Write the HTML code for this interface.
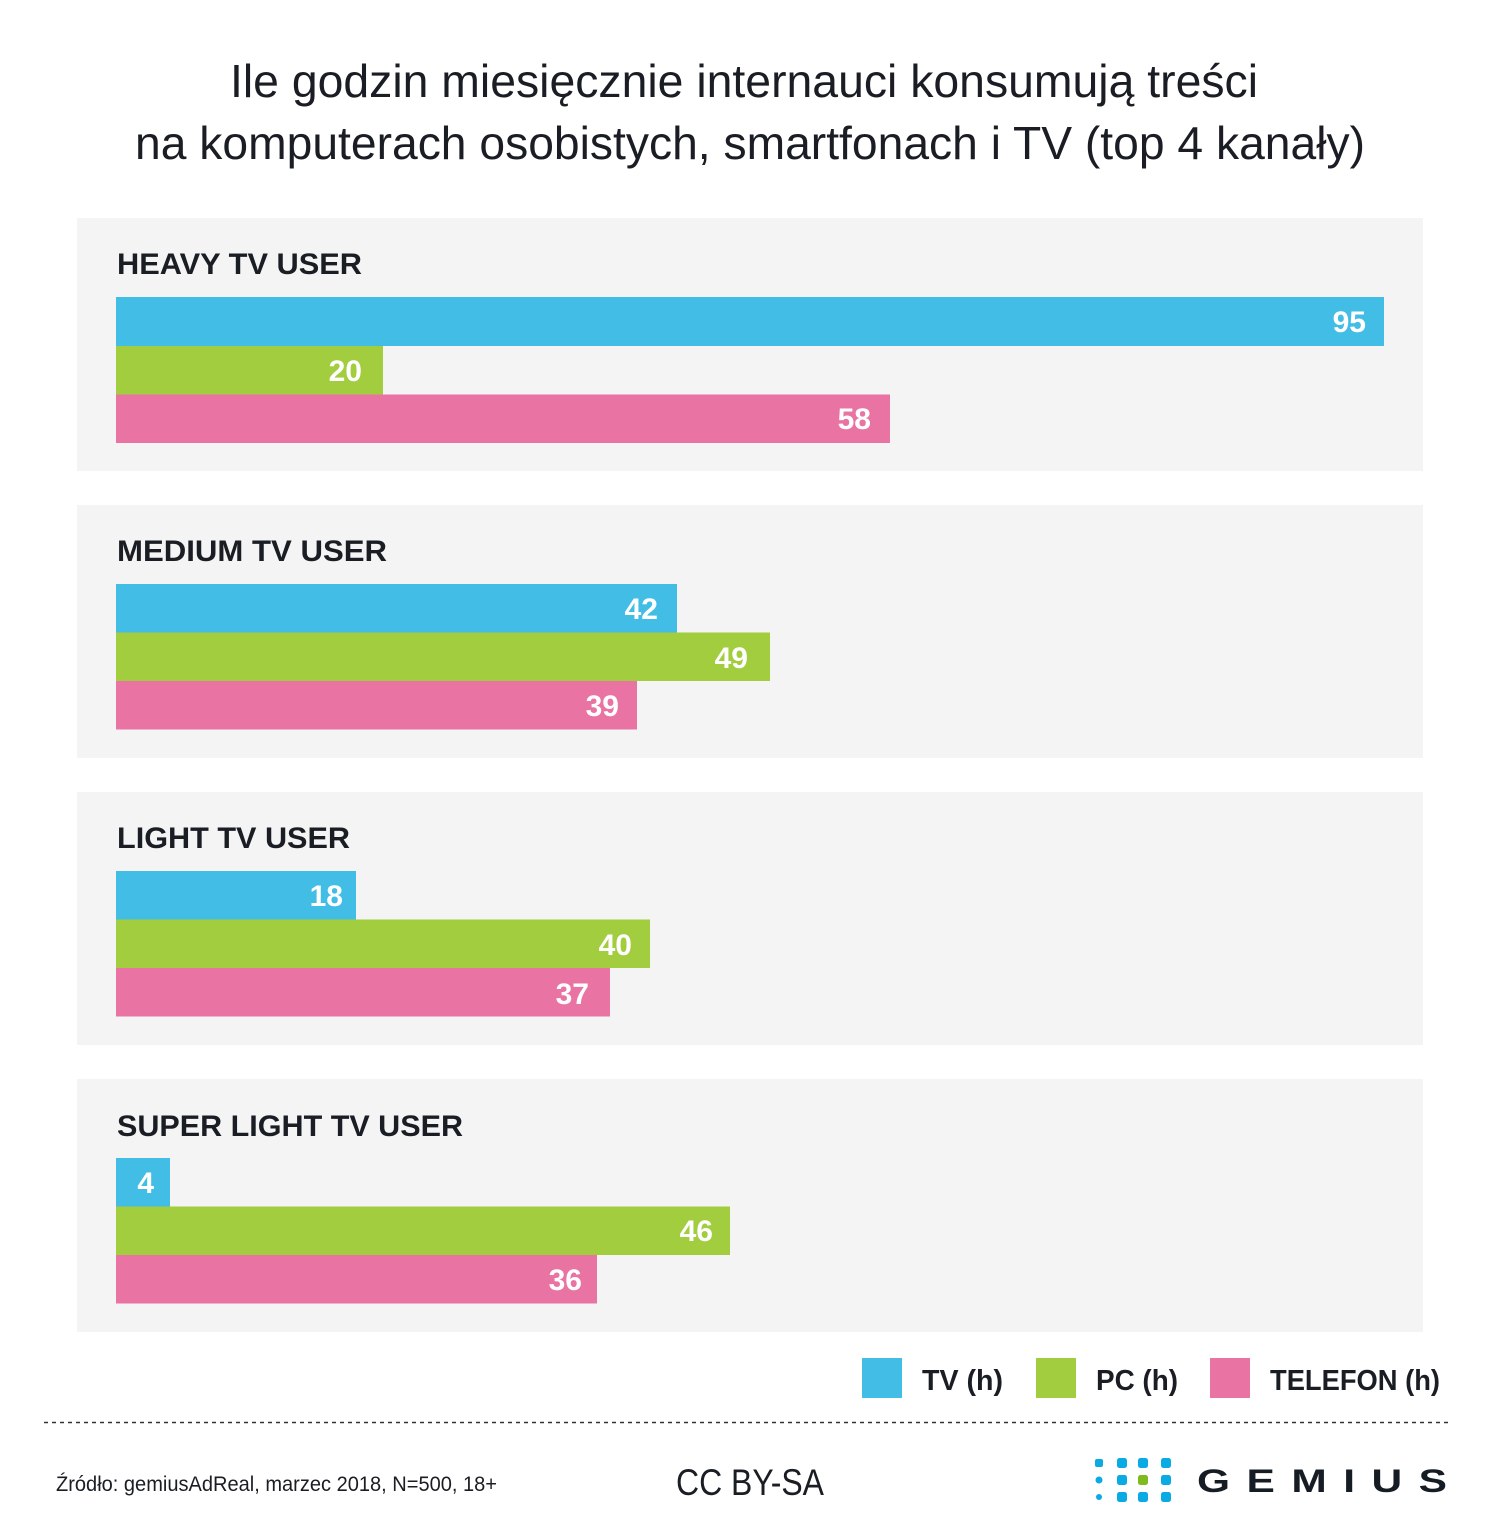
<!DOCTYPE html>
<html><head><meta charset="utf-8"><style>html,body{margin:0;padding:0;background:#fff}svg{display:block}</style></head>
<body>
<svg width="1500" height="1538" viewBox="0 0 1500 1538" xmlns="http://www.w3.org/2000/svg" font-family="'Liberation Sans Narrow','Liberation Sans',sans-serif">
<rect width="1500" height="1538" fill="#fff"/>
<g fill="#1a1e24" font-size="46" text-anchor="middle">
<text x="744" y="97" textLength="1028" lengthAdjust="spacingAndGlyphs">Ile godzin miesięcznie internauci konsumują treści</text>
<text x="750" y="159" textLength="1230" lengthAdjust="spacingAndGlyphs">na komputerach osobistych, smartfonach i TV (top 4 kanały)</text>
</g>
<g font-family="'Liberation Sans',sans-serif" font-weight="bold">
<rect x="77" y="218" width="1346" height="253" fill="#f3f4f3"/>
<text x="117" y="274" font-size="30" fill="#1a1e24" textLength="245" lengthAdjust="spacingAndGlyphs">HEAVY TV USER</text>
<rect x="116" y="297" width="1268" height="49" fill="#41bde6"/>
<rect x="116" y="346" width="267" height="48.5" fill="#a2cd3f"/>
<rect x="116" y="394.5" width="774" height="48.5" fill="#e974a4"/>
<g fill="#fff" font-size="30" text-anchor="end">
<text x="1366" y="332">95</text><text x="362" y="381">20</text><text x="871" y="429">58</text>
</g>
<rect x="77" y="505" width="1346" height="253" fill="#f3f4f3"/>
<text x="117" y="561" font-size="30" fill="#1a1e24" textLength="270" lengthAdjust="spacingAndGlyphs">MEDIUM TV USER</text>
<rect x="116" y="584" width="561" height="48.5" fill="#41bde6"/>
<rect x="116" y="632.5" width="654" height="48.5" fill="#a2cd3f"/>
<rect x="116" y="681" width="521" height="48.5" fill="#e974a4"/>
<g fill="#fff" font-size="30" text-anchor="end">
<text x="658" y="619">42</text><text x="748" y="668">49</text><text x="619" y="716">39</text>
</g>
<rect x="77" y="792" width="1346" height="253" fill="#f3f4f3"/>
<text x="117" y="848" font-size="30" fill="#1a1e24" textLength="233" lengthAdjust="spacingAndGlyphs">LIGHT TV USER</text>
<rect x="116" y="871" width="240" height="48.5" fill="#41bde6"/>
<rect x="116" y="919.5" width="534" height="48.5" fill="#a2cd3f"/>
<rect x="116" y="968" width="494" height="48.5" fill="#e974a4"/>
<g fill="#fff" font-size="30" text-anchor="end">
<text x="343" y="906">18</text><text x="632" y="955">40</text><text x="589" y="1004">37</text>
</g>
<rect x="77" y="1079" width="1346" height="253" fill="#f3f4f3"/>
<text x="117" y="1136" font-size="30" fill="#1a1e24" textLength="346" lengthAdjust="spacingAndGlyphs">SUPER LIGHT TV USER</text>
<rect x="116" y="1158" width="54" height="48.5" fill="#41bde6"/>
<rect x="116" y="1206.5" width="614" height="48.5" fill="#a2cd3f"/>
<rect x="116" y="1255" width="481" height="48.5" fill="#e974a4"/>
<g fill="#fff" font-size="30" text-anchor="end">
<text x="154" y="1193">4</text><text x="713" y="1241">46</text><text x="582" y="1290">36</text>
</g>
</g>
<rect x="862" y="1358" width="40" height="40" fill="#41bde6"/>
<rect x="1036" y="1358" width="40" height="40" fill="#a2cd3f"/>
<rect x="1210" y="1358" width="40" height="40" fill="#e974a4"/>
<g fill="#1a1e24" font-size="29" font-family="'Liberation Sans',sans-serif" font-weight="bold">
<text x="922" y="1390" textLength="81" lengthAdjust="spacingAndGlyphs">TV (h)</text>
<text x="1096" y="1390" textLength="82" lengthAdjust="spacingAndGlyphs">PC (h)</text>
<text x="1270" y="1390" textLength="170" lengthAdjust="spacingAndGlyphs">TELEFON (h)</text>
</g>
<line x1="44" y1="1422.5" x2="1450" y2="1422.5" stroke="#333" stroke-width="1.5" stroke-dasharray="4,4"/>
<text x="56" y="1491" font-size="21" fill="#1a1e24" textLength="441" lengthAdjust="spacingAndGlyphs">Źródło: gemiusAdReal, marzec 2018, N=500, 18+</text>
<text x="676" y="1495" font-size="37" fill="#1a1e24" textLength="148" lengthAdjust="spacingAndGlyphs">CC BY-SA</text>
<g fill="#0aaae2">
<rect x="1095" y="1459" width="8" height="8" rx="2"/>
<circle cx="1099" cy="1480" r="3.5"/>
<circle cx="1099" cy="1497" r="3"/>
<rect x="1117" y="1458" width="10" height="10" rx="2.5"/><rect x="1117" y="1475" width="10" height="10" rx="2.5"/><rect x="1117" y="1492" width="10" height="10" rx="2.5"/>
<rect x="1138" y="1458" width="10" height="10" rx="2.5"/><rect x="1138" y="1475" width="10" height="10" rx="2.5" fill="#7dbb1e"/><rect x="1138" y="1492" width="10" height="10" rx="2.5"/>
<rect x="1161" y="1458" width="10" height="10" rx="2.5"/><rect x="1161" y="1475" width="10" height="10" rx="2.5"/><rect x="1161" y="1492" width="10" height="10" rx="2.5"/>
</g>
<g transform="translate(1197,1492) scale(1.25,0.95)">
<text x="0" y="0" font-family="'Liberation Sans',sans-serif" font-weight="bold" font-size="34" fill="#151c24" textLength="200" lengthAdjust="spacing">GEMIUS</text>
</g>
</svg>
</body></html>
